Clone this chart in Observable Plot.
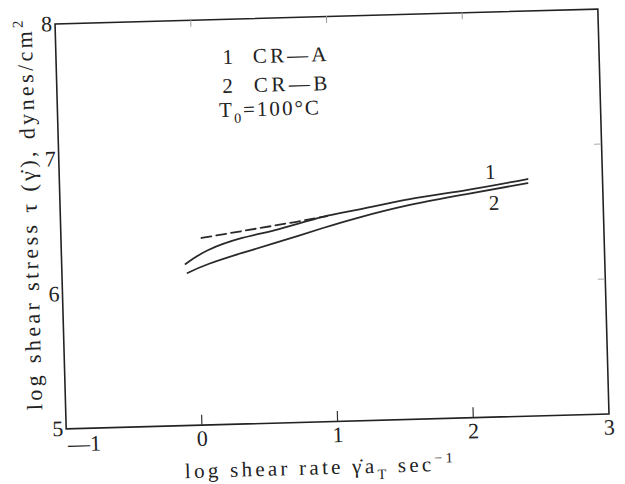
<!DOCTYPE html>
<html><head><meta charset="utf-8">
<script src="https://cdn.jsdelivr.net/npm/d3@7"></script>
<script src="https://cdn.jsdelivr.net/npm/@observablehq/plot@0.6"></script>
<style>
body{margin:0;background:#fff;overflow:hidden;}
#chart svg{font-family:"Liberation Serif","DejaVu Serif",serif;color:#222;
  transform:rotate(-1.58deg);transform-origin:331.5px 218.5px;}
#chart svg text{white-space:pre;}
</style></head><body><div id="chart"></div>
<script>
// ---- data ----
const xTicks = [-1, 0, 1, 2, 3];
const yTicks = [5, 6, 7, 8];
const innerTicksX = [0, 1, 2];
const innerTicksY = [6, 7];
const curveNames = ["1", "2"];
const c1x = [-0.088, 0.083, 0.335, 0.579, 0.933, 1.185, 1.576, 1.997, 2.448];
const c1y = [6.197, 6.296, 6.378, 6.430, 6.517, 6.562, 6.632, 6.687, 6.756];
const c2x = [-0.075, 0.081, 0.332, 0.577, 0.932, 1.184, 1.576, 1.996, 2.447];
const c2y = [6.130, 6.192, 6.267, 6.334, 6.435, 6.502, 6.588, 6.657, 6.726];
const dashX = [0.035, 0.729, 0.965];
const dashY = [6.386, 6.485, 6.523];
const legendLines = [
  [["1  CR—A"]],
  [["2  CR—B"]],
  [["T"], ["0", "sub"], ["=100°C"]]
];
const xLabelParts = [["log shear rate γ̇a"], ["T", "sub"], [" sec"], ["−1", "sup"]];
const yLabelParts = [["log shear stress τ (γ̇), dynes/cm"], ["2", "sup"]];

// ---- helpers ----
const pts = (xs, ys, s) => xs.map((x, i) => ({x, y: ys[i], s}));
const line1 = pts(c1x, c1y, curveNames[0]);
const line2 = pts(c2x, c2y, curveNames[1]);
const dash = pts(dashX, dashY, "ext");

function richText(parts, {x, y, size, length, rotate = false, anchor = "start"}) {
  const t = d3.create("svg:text")
    .attr("x", x).attr("y", y)
    .attr("font-size", size)
    .attr("fill", "#222")
    .attr("text-anchor", anchor);
  if (rotate) t.attr("transform", `rotate(-90 ${x} ${y})`);
  if (length) t.attr("textLength", length).attr("lengthAdjust", "spacing");
  let shift = 0;
  for (const [s, k] of parts) {
    const target = k === "sub" ? size * 0.3 : k === "sup" ? -size * 0.4 : 0;
    const ts = t.append("tspan").text(s);
    if (target !== shift) { ts.attr("dy", target - shift); shift = target; }
    if (k) ts.attr("font-size", size * 0.68);
  }
  return t.node();
}

const W = 625, H = 484;
const mL = 60, mR = 22, mT = 16, mB = 63;
const fw = W - mL - mR, fh = H - mT - mB;

const chart = Plot.plot({
  width: W, height: H,
  marginLeft: mL, marginRight: mR, marginTop: mT, marginBottom: mB,
  x: {domain: [-1, 3]},
  y: {domain: [5, 8]},
  style: {fontFamily: '"Liberation Serif","DejaVu Serif",serif', fontSize: "22px", background: "#fff"},
  marks: [
    Plot.frame({stroke: "#222", strokeWidth: 1.6}),
    Plot.axisY({ticks: yTicks, tickFormat: d => String(d), tickSize: 0, tickPadding: 3, label: null, fontSize: 22}),
    Plot.axisX({ticks: xTicks.filter(d => d >= 0), tickFormat: d => String(d), tickSize: 0, tickPadding: 5, label: null, fontSize: 22}),
    Plot.axisX({ticks: xTicks.filter(d => d < 0), tickFormat: () => "—1", tickSize: 0, tickPadding: 7, dx: 18, label: null, fontSize: 22}),
    Plot.tickX(innerTicksX, {x: d => d, insetTop: fh - 10, stroke: "#333", strokeWidth: 1.2}),
    Plot.tickX(innerTicksX, {x: d => d, insetBottom: fh - 7, stroke: "#999", strokeWidth: 1}),
    Plot.tickY(innerTicksY, {y: d => d, insetLeft: fw - 7, stroke: "#aaa", strokeWidth: 1}),
    Plot.tickY(innerTicksY, {y: d => d, insetRight: fw, dx: -5, stroke: "#bbb", strokeWidth: 1}),
    Plot.line(line1, {x: "x", y: "y", curve: "natural", stroke: "#2a2a2a", strokeWidth: 1.8}),
    Plot.line(line2, {x: "x", y: "y", curve: "natural", stroke: "#2a2a2a", strokeWidth: 1.8}),
    Plot.line(dash, {x: "x", y: "y", stroke: "#2a2a2a", strokeWidth: 1.8, strokeDasharray: "10,5"}),
    Plot.text([line1[line1.length - 1]], {x: "x", y: "y", text: "s", dx: -37, dy: -8, fontSize: 21, fill: "#222"}),
    Plot.text([line2[line2.length - 1]], {x: "x", y: "y", text: "s", dx: -34, dy: 19, fontSize: 21, fill: "#222"}),
    () => {
      const g = d3.create("svg:g");
      const xs = [227, 226, 222];
      const base = [61, 90, 114];
      const lens = [104, 105, 100];
      legendLines.forEach((parts, i) => {
        g.node().appendChild(richText(parts, {x: xs[i], y: base[i], size: 21, length: lens[i]}));
      });
      g.node().appendChild(richText(xLabelParts, {x: 312, y: 474, size: 21, length: 268, anchor: "middle"}));
      g.node().appendChild(richText(yLabelParts, {x: 37, y: 207, size: 22, length: 390, anchor: "middle", rotate: true}));
      return g.node();
    }
  ]
});
document.getElementById("chart").appendChild(chart);
</script>
</body></html>
